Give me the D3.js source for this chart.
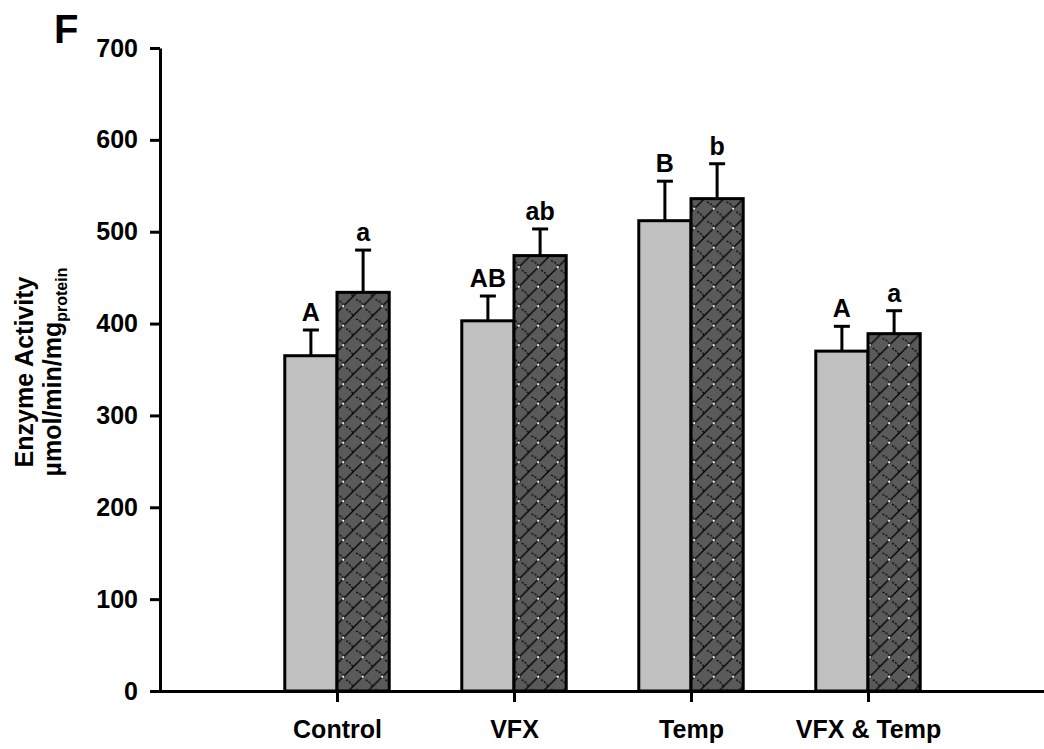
<!DOCTYPE html>
<meta charset="utf-8" />
<html>
<head>
<script src="https://d3js.org/d3.v7.min.js"></script>
<style>
  body { margin: 0; background: white; }
  text { font-family: "Liberation Sans", Arial, sans-serif; font-weight: bold; fill: black; }
</style>
</head>
<body>
<svg width="1044" height="749"></svg>
<script>
// Chart data
var groups = ["Control", "VFX", "Temp", "VFX & Temp"];
var lightVals = [365, 403, 512, 370];
var lightErr = [28, 27, 43, 27];
var darkVals = [434, 474, 536, 389];
var darkErr = [46, 29, 38, 25];
var lightLetters = ["A", "AB", "B", "A"];
var darkLetters = ["a", "ab", "b", "a"];
var yTicks = [0, 100, 200, 300, 400, 500, 600, 700];

var svg = d3.select("svg");

// scales: category i sits at x(i+1), axis spans 0..5
var x = d3.scaleLinear().domain([0, 5]).range([160, 1045]);
var y = d3.scaleLinear().domain([0, 700]).range([691, 48]);
var barW = 0.295; // in category units
var fs = 25;

// hatch pattern for the second series
var defs = svg.append("defs");
var pat = defs.append("pattern")
    .attr("id", "hatch")
    .attr("patternUnits", "userSpaceOnUse")
    .attr("width", 19.5).attr("height", 19.5)
    .attr("x", 2).attr("y", 4);
pat.append("rect").attr("width", 19.5).attr("height", 19.5).attr("fill", "#5a5a5a");
pat.append("path")
    .attr("d", "M0,19.5 L19.5,0 M-5,5 L5,-5 M14.5,24.5 L24.5,14.5")
    .attr("stroke", "#000").attr("stroke-width", 1.3).attr("fill", "none");
pat.append("path")
    .attr("d", "M3,3 Q9,5 11,11 M12.75,12.75 Q17,15 19.5,19.5")
    .attr("stroke", "#000").attr("stroke-width", 1.3).attr("fill", "none")
    .attr("stroke-dasharray", "2,1.5");
pat.append("circle").attr("cx", 9.75).attr("cy", 9.75).attr("r", 1.1).attr("fill", "#fff");

// bars
var g = svg.append("g");

g.selectAll(".lightBar").data(groups).enter().append("rect")
    .attr("class", "lightBar")
    .attr("x", function(d, i) { return x(i + 1 - barW); })
    .attr("y", function(d, i) { return y(lightVals[i]); })
    .attr("width", x(barW) - x(0))
    .attr("height", function(d, i) { return y(0) - y(lightVals[i]); })
    .attr("fill", "#c0c0c0").attr("stroke", "#000").attr("stroke-width", 3);

g.selectAll(".darkBar").data(groups).enter().append("rect")
    .attr("class", "darkBar")
    .attr("x", function(d, i) { return x(i + 1); })
    .attr("y", function(d, i) { return y(darkVals[i]); })
    .attr("width", x(barW) - x(0))
    .attr("height", function(d, i) { return y(0) - y(darkVals[i]); })
    .attr("fill", "url(#hatch)").attr("stroke", "#000").attr("stroke-width", 3);

// error bars + letters
function errBars(vals, errs, letters, off) {
    groups.forEach(function(d, i) {
        var cx = x(i + 1 + off);
        var top = y(vals[i] + errs[i]);
        g.append("line").attr("x1", cx).attr("x2", cx)
            .attr("y1", y(vals[i])).attr("y2", top)
            .attr("stroke", "#000").attr("stroke-width", 3);
        g.append("line").attr("x1", cx - 8).attr("x2", cx + 8)
            .attr("y1", top).attr("y2", top)
            .attr("stroke", "#000").attr("stroke-width", 3);
        g.append("text").attr("x", cx).attr("y", top - 9)
            .attr("text-anchor", "middle").attr("font-size", fs)
            .text(letters[i]);
    });
}
errBars(lightVals, lightErr, lightLetters, -barW / 2);
errBars(darkVals, darkErr, darkLetters, barW / 2);

// y axis
var yAxis = svg.append("g")
    .attr("transform", "translate(160,0)")
    .call(d3.axisLeft(y).tickValues(yTicks).tickSize(10).tickPadding(12).tickSizeOuter(0));
yAxis.selectAll("line, path").attr("stroke", "#000").attr("stroke-width", 3);
yAxis.selectAll("text").attr("font-size", fs).attr("font-family", "Liberation Sans, Arial, sans-serif")
    .attr("font-weight", "bold").attr("fill", "#000");

// x axis
var xAxis = svg.append("g")
    .attr("transform", "translate(0,691)")
    .call(d3.axisBottom(x).tickValues([1, 2, 3, 4]).tickSize(11).tickPadding(18).tickSizeOuter(0)
        .tickFormat(function(d) { return groups[d - 1]; }));
xAxis.select(".domain").attr("d", "M150,0.5H1045");
xAxis.selectAll("line, path").attr("stroke", "#000").attr("stroke-width", 3);
xAxis.selectAll("text").attr("font-size", fs).attr("font-family", "Liberation Sans, Arial, sans-serif")
    .attr("font-weight", "bold").attr("fill", "#000");

// y axis title
svg.append("text")
    .attr("transform", "translate(33,372) rotate(-90)")
    .attr("text-anchor", "middle").attr("font-size", fs)
    .text("Enzyme Activity");
var l2 = svg.append("text")
    .attr("transform", "translate(61,372) rotate(-90)")
    .attr("text-anchor", "middle").attr("font-size", fs);
l2.append("tspan").text("\u00b5mol/min/mg");
l2.append("tspan").attr("font-size", 16).attr("dy", 6).text("protein");

// panel letter
svg.append("text").attr("x", 54).attr("y", 43).attr("font-size", 40).text("F");
</script>
</body>
</html>
